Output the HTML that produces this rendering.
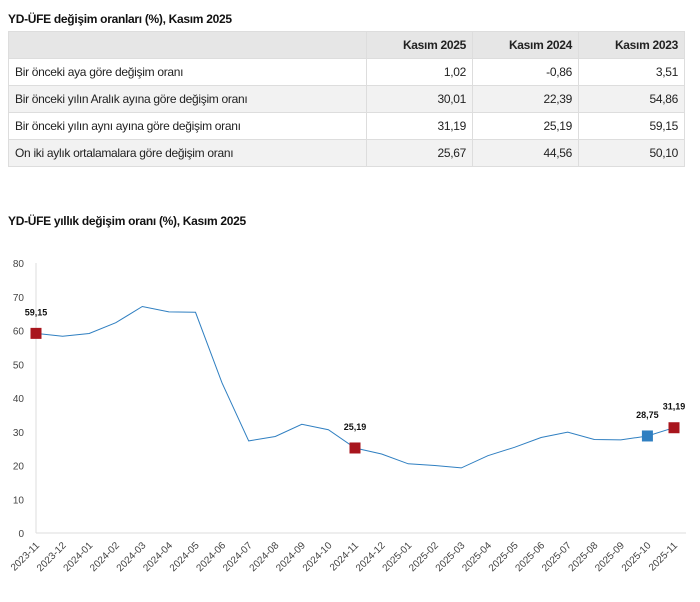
<!DOCTYPE html>
<html><head><meta charset="utf-8"><style>
body{margin:0;background:#fff;font-family:"Liberation Sans",sans-serif;width:700px;height:602px;overflow:hidden;position:relative}
.t{position:absolute;font-weight:bold;font-size:12px;color:#111;letter-spacing:-0.3px}
table{position:absolute;left:8px;top:31px;width:677px;border-collapse:collapse;font-size:12px;color:#222}
td,th{border:1px solid #ddd;height:26px;padding:0 6px;letter-spacing:-0.3px}
th{background:#e6e6e6;text-align:right;font-weight:bold}
td{text-align:right}
td:first-child{text-align:left;width:345px}
tr:nth-child(odd) td{background:#f2f2f2}
</style></head><body>
<div class="t" style="left:8px;top:12px">YD-ÜFE değişim oranları (%), Kasım 2025</div>
<table>
<tr><th style="background:#e6e6e6"></th><th>Kasım 2025</th><th>Kasım 2024</th><th>Kasım 2023</th></tr>
<tr><td style="background:#fff">Bir önceki aya göre değişim oranı</td><td style="background:#fff">1,02</td><td style="background:#fff">-0,86</td><td style="background:#fff">3,51</td></tr>
<tr><td>Bir önceki yılın Aralık ayına göre değişim oranı</td><td>30,01</td><td>22,39</td><td>54,86</td></tr>
<tr><td style="background:#fff">Bir önceki yılın aynı ayına göre değişim oranı</td><td style="background:#fff">31,19</td><td style="background:#fff">25,19</td><td style="background:#fff">59,15</td></tr>
<tr><td>On iki aylık ortalamalara göre değişim oranı</td><td>25,67</td><td>44,56</td><td>50,10</td></tr>
</table>
<div class="t" style="left:8px;top:214px">YD-ÜFE yıllık değişim oranı (%), Kasım 2025</div>
<svg id="c" width="700" height="602" style="position:absolute;left:0;top:0" font-family="Liberation Sans, sans-serif"></svg>
<script>
var v=[59.15,58.3,59.1,62.3,67.1,65.5,65.4,44.4,27.3,28.6,32.2,30.6,25.19,23.4,20.5,20.0,19.3,22.9,25.4,28.3,29.9,27.7,27.6,28.75,31.19];
var L=["2023-11","2023-12","2024-01","2024-02","2024-03","2024-04","2024-05","2024-06","2024-07","2024-08","2024-09","2024-10","2024-11","2024-12","2025-01","2025-02","2025-03","2025-04","2025-05","2025-06","2025-07","2025-08","2025-09","2025-10","2025-11"];
function X(i){return 36+i*(638/24)}function Y(y){return 533-y*3.375}
var s='';
s+='<line x1="36" y1="263" x2="36" y2="533" stroke="#ddd"/><line x1="36" y1="533" x2="686" y2="533" stroke="#ddd"/>';
for(var k=0;k<=8;k++){s+='<text x="24" y="'+(Y(k*10)+4)+'" font-size="10" fill="#444" text-anchor="end">'+k*10+'</text>';}
var p=v.map(function(y,i){return X(i).toFixed(1)+','+Y(y).toFixed(1)}).join(' ');
s+='<polyline points="'+p+'" fill="none" stroke="#2f7fc1" stroke-width="1"/>';
L.forEach(function(l,i){var x=X(i);s+='<text transform="translate('+(x+4)+',546) rotate(-45)" font-size="10" fill="#444" text-anchor="end">'+l+'</text>';});
function m(i,c,t,dx,dy){var x=X(i),y=Y(v[i]);s+='<rect x="'+(x-5.5)+'" y="'+(y-5.5)+'" width="11" height="11" fill="'+c+'"/>';s+='<text x="'+(x+dx)+'" y="'+(y+dy)+'" font-size="9" font-weight="bold" text-anchor="middle" fill="#111">'+t+'</text>';}
m(0,"#a8151d","59,15",0,-18);m(12,"#a8151d","25,19",0,-18);m(23,"#2f7fc1","28,75",0,-18);m(24,"#a8151d","31,19",0,-18);
document.getElementById('c').innerHTML=s;
</script>
</body></html>
